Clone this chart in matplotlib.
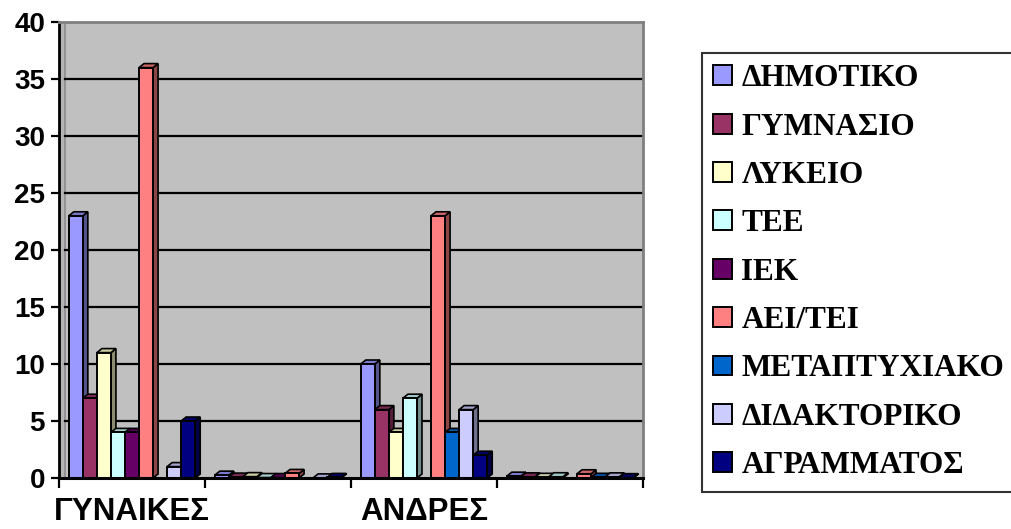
import matplotlib
matplotlib.use("Agg")
import matplotlib.pyplot as plt
from matplotlib.patches import Polygon, Patch, Rectangle
from matplotlib.colors import to_rgb
import numpy as np

# Education level counts per group; the 2nd and 4th category hold the shares
categories = ["ΓΥΝΑΙΚΕΣ", "", "ΑΝΔΡΕΣ", ""]
series_names = ["ΔΗΜΟΤΙΚΟ", "ΓΥΜΝΑΣΙΟ", "ΛΥΚΕΙΟ", "ΤΕΕ", "ΙΕΚ",
                "ΑΕΙ/ΤΕΙ", "ΜΕΤΑΠΤΥΧΙΑΚΟ", "ΔΙΔΑΚΤΟΡΙΚΟ", "ΑΓΡΑΜΜΑΤΟΣ"]
women = [23, 7, 11, 4, 4, 36, 0, 1, 5]
women_share = [0.25, 0.08, 0.12, 0.04, 0.04, 0.40, 0, 0.01, 0.05]
men = [10, 6, 4, 7, 0, 23, 4, 6, 2]
men_share = [0.16, 0.10, 0.06, 0.11, 0, 0.37, 0.06, 0.10, 0.03]
colors = ["#9999FF", "#993366", "#FFFFCC", "#CCFFFF", "#660066",
          "#FF8080", "#0066CC", "#CCCCFF", "#000080"]
y_ticks = [0, 5, 10, 15, 20, 25, 30, 35, 40]

table = np.array([women, women_share, men, men_share], dtype=float).T  # series x category

fig = plt.figure(figsize=(10.11, 5.29), dpi=100)
ax = fig.add_axes([59 / 1011, 51 / 529, 584 / 1011, 456 / 529])
ax.set_xlim(0, 4)
ax.set_ylim(0, 40)
ax.set_facecolor("#C0C0C0")

# narrow side wall at the left edge
ax.add_patch(Rectangle((0, 0), 6 / 146, 40, facecolor="#B4B4B4",
                       edgecolor="#8C8C8C", linewidth=1.2, zorder=0.5))

# gridlines on the back wall
for t in y_ticks[1:-1]:
    ax.plot([6 / 146, 4], [t, t], color="black", lw=1.6, zorder=1)

n = len(series_names)
group = 0.866
w = group / n
x0 = (1 - group) / 2
# depth offsets of the pseudo-3D columns, in data units
dx = 5 / 146
dy = 4 / 11.4


def shade(c, f):
    r, g, b = to_rgb(c)
    return (r * f, g * f, b * f)


for k in range(n):
    z = 2 + k * 0.1
    xs = np.arange(len(categories)) + x0 + k * w
    vals = table[k]
    ax.bar(xs, vals, width=w, align="edge", color=colors[k],
           edgecolor="black", linewidth=1.4, zorder=z + 0.05)
    for xl, v in zip(xs, vals):
        if v <= 0:
            continue
        side = Polygon([(xl + w, 0), (xl + w + dx, dy), (xl + w + dx, v + dy), (xl + w, v)],
                       closed=True, facecolor=shade(colors[k], 0.55),
                       edgecolor="black", linewidth=1.2, zorder=z)
        top = Polygon([(xl, v), (xl + dx, v + dy), (xl + w + dx, v + dy), (xl + w, v)],
                      closed=True, facecolor=shade(colors[k], 0.8),
                      edgecolor="black", linewidth=1.2, zorder=z)
        ax.add_patch(side)
        ax.add_patch(top)

# spines
for s in ("top", "right"):
    ax.spines[s].set_color("#808080")
    ax.spines[s].set_linewidth(2.0)
ax.spines["left"].set_color("black")
ax.spines["left"].set_linewidth(2.0)
ax.spines["bottom"].set_color("black")
ax.spines["bottom"].set_linewidth(2.2)
ax.spines["bottom"].set_zorder(5)

ax.set_yticks(y_ticks)
ax.set_yticklabels([str(t) for t in y_ticks], fontsize=20, fontweight="bold",
                   family="Liberation Sans")
ax.tick_params(axis="y", direction="out", length=6, width=1.6, pad=4)

ax.set_xticks(np.arange(0, len(categories) + 1))
ax.set_xticklabels([])
ax.tick_params(axis="x", which="major", direction="out", length=7, width=1.6)
ax.set_xticks(np.arange(len(categories)) + 0.5, minor=True)
ax.set_xticklabels(categories, minor=True, fontsize=22.5, fontweight="bold",
                   family="Liberation Sans")
ax.tick_params(axis="x", which="minor", length=0, pad=14)

handles = [Patch(facecolor=c, edgecolor="black", linewidth=1.4) for c in colors]
leg = fig.legend(handles, series_names, loc="upper left",
                 bbox_to_anchor=(702 / 1011, 1 - 53 / 529),
                 prop={"family": "Liberation Serif", "weight": "bold", "size": 22.5},
                 frameon=True, fancybox=False, edgecolor="black",
                 handlelength=0.6, handleheight=0.6, handletextpad=0.3,
                 labelspacing=0.62, borderpad=0.36, borderaxespad=0)
leg.get_frame().set_linewidth(1.5)

fig.savefig("out.png", dpi=100, facecolor="white")
